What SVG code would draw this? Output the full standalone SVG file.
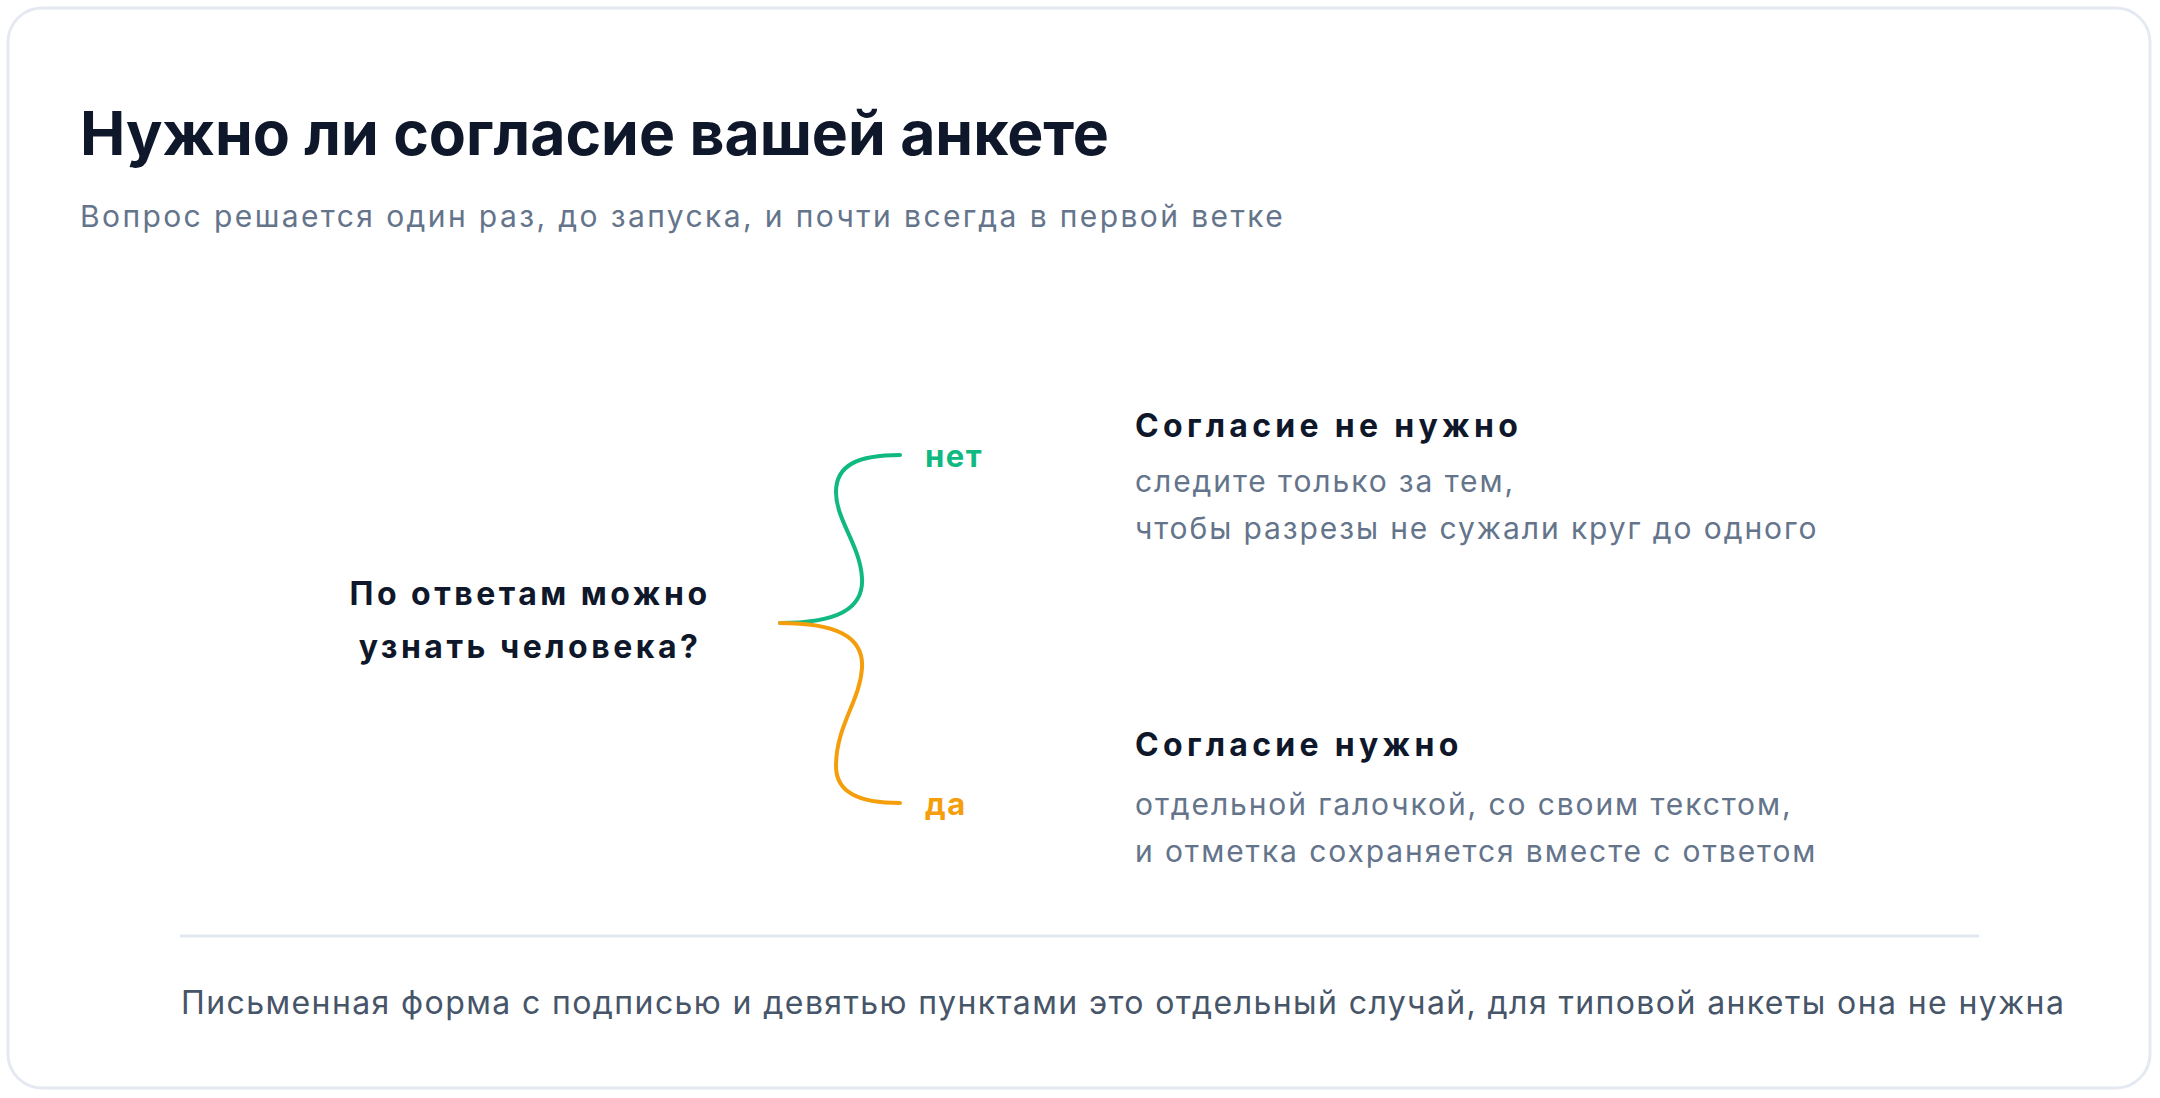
<svg xmlns="http://www.w3.org/2000/svg" width="2160" height="1098" viewBox="0 0 2160 1098">
<style>
text{font-family:Inter,"Noto Sans",sans-serif}
.title{font-size:60.7px;font-weight:700;fill:#0f172a}
.sub{font-size:30px;fill:#64748b;letter-spacing:2.4px}
.q{font-size:32px;font-weight:700;fill:#0f172a;text-anchor:middle;letter-spacing:3.5px}
.h{font-size:32px;font-weight:700;fill:#0f172a;letter-spacing:4.3px}
.b{font-size:30px;fill:#64748b;letter-spacing:1.9px}
.foot{font-size:32px;fill:#475569;letter-spacing:1.4px}
.lbl{font-size:31px;font-weight:700;letter-spacing:1.5px}
.br{fill:none;stroke-width:4;stroke-linecap:round}
</style>
<rect x="0" y="0" width="2160" height="1098" fill="#ffffff"/>
<rect id="card" x="8" y="8" width="2142" height="1080" rx="34" fill="#ffffff" stroke="#e5e9f2" stroke-width="3"/>
<g id="header">
<text class="title" x="80" y="155">Нужно ли согласие вашей анкете</text>
<text class="sub" x="80" y="227">Вопрос решается один раз, до запуска, и почти всегда в первой ветке</text>
</g>
<g id="question">
<text class="q" x="530" y="605">По ответам можно</text>
<text class="q" x="530" y="658">узнать человека?</text>
</g>
<g id="connectors">
<path class="br" stroke="#10b981" d="M780 623 C835 623 864 610 862 578 C860 545 836 520 836 492 C836 465 858 455 900 455"/>
<path class="br" stroke="#f59e0b" d="M780 623 C835 623 864 636 862 668 C860 701 836 726 836 766 C836 792 858 803 900 803"/>
</g>
<g id="label-no"><text class="lbl" x="925" y="467" fill="#10b981">нет</text></g>
<g id="label-yes"><text class="lbl" x="925" y="815" fill="#f59e0b">да</text></g>
<g id="outcome-no">
<text class="h" x="1135" y="437">Согласие не нужно</text>
<text class="b" x="1135" y="492">следите только за тем,</text>
<text class="b" x="1135" y="539">чтобы разрезы не сужали круг до одного</text>
</g>
<g id="outcome-yes">
<text class="h" x="1135" y="756">Согласие нужно</text>
<text class="b" x="1135" y="815">отдельной галочкой, со своим текстом,</text>
<text class="b" x="1135" y="862">и отметка сохраняется вместе с ответом</text>
</g>
<g id="footer">
<line x1="180" y1="936" x2="1979" y2="936" stroke="#e2e8f0" stroke-width="3"/>
<text class="foot" x="181" y="1014">Письменная форма с подписью и девятью пунктами это отдельный случай, для типовой анкеты она не нужна</text>
</g>
</svg>
